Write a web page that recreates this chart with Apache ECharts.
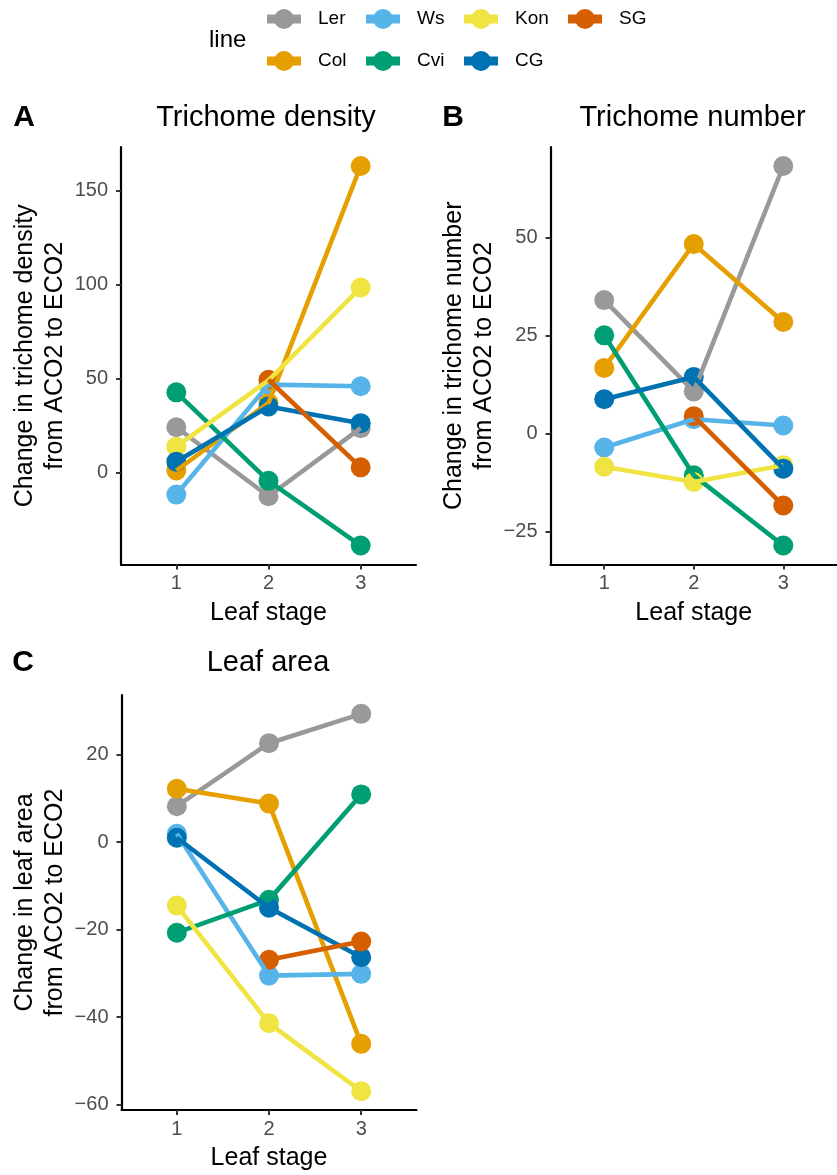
<!DOCTYPE html>
<html>
<head>
<meta charset="utf-8">
<script src="https://cdn.jsdelivr.net/npm/echarts@6.0.0/dist/echarts.min.js"></script>
<style>
  html, body { margin: 0; padding: 0; background: #ffffff; }
  #chart { width: 837px; height: 1175px; }
</style>
</head>
<body>
<div id="chart"></div>
<script>
// ---------- data ----------
const stages = [1, 2, 3];
const lineNames = ['Ler', 'Col', 'Ws', 'Cvi', 'Kon', 'CG', 'SG'];
const lineColors = ['#999999', '#E69F00', '#56B4E9', '#009E73', '#F0E442', '#0072B2', '#D55E00'];

// Panel A: change in trichome density (order follows lineNames)
const densityLer = [24.0, -12.7, 23.5];
const densityCol = [1.0, 37.0, 163.0];
const densityWs  = [-11.8, 46.7, 45.8];
const densityCvi = [42.6, -4.5, -38.9];
const densityKon = [13.7, 49.0, 98.3];
const densityCG  = [5.7, 35.1, 26.2];
const densitySG  = [null, 49.3, 2.7];

// Panel B: change in trichome number
const numberLer = [34.0, 10.7, 68.2];
const numberCol = [16.7, 48.3, 28.4];
const numberWs  = [-3.6, 3.6, 2.0];
const numberCvi = [25.0, -10.7, -28.6];
const numberKon = [-8.5, -12.4, -8.1];
const numberCG  = [8.7, 14.4, -9.0];
const numberSG  = [null, 4.4, -18.4];

// Panel C: change in leaf area
const areaLer = [8.2, 22.6, 29.3];
const areaCol = [12.2, 8.8, -46.1];
const areaWs  = [1.9, -30.5, -30.1];
const areaCvi = [-20.7, -13.2, 10.9];
const areaKon = [-14.5, -41.4, -56.9];
const areaCG  = [1.0, -15.0, -26.3];
const areaSG  = [null, -26.9, -22.7];

const densityTicks = [0, 50, 100, 150];
const numberTicks = [-25, 0, 25, 50];
const areaTicks = [-60, -40, -20, 0, 20];

const panelTitles = ['Trichome density', 'Trichome number', 'Leaf area'];
const panelLetters = ['A', 'B', 'C'];
const yNames = [
  'Change in trichome density\nfrom ACO2 to ECO2',
  'Change in trichome number\nfrom ACO2 to ECO2',
  'Change in leaf area\nfrom ACO2 to ECO2'
];
const xName = 'Leaf stage';
const legendTitle = 'line';
const legendColumns = [['Ler', 'Col'], ['Ws', 'Cvi'], ['Kon', 'CG'], ['SG']];

// ---------- build ----------
const panels = [
  [densityLer, densityCol, densityWs, densityCvi, densityKon, densityCG, densitySG],
  [numberLer, numberCol, numberWs, numberCvi, numberKon, numberCG, numberSG],
  [areaLer, areaCol, areaWs, areaCvi, areaKon, areaCG, areaSG]
];
const panelTicks = [densityTicks, numberTicks, areaTicks];

const FONT = '"Liberation Sans", Arial, Helvetica, sans-serif';
const grids = [
  { left: 121, top: 147, width: 295, height: 417.5 },
  { left: 550.5, top: 147, width: 294, height: 417.5 },
  { left: 121.5, top: 695, width: 295, height: 415 }
];

function expandRange(arrs) {
  const vals = [].concat(...arrs).filter(v => v !== null);
  const mn = Math.min(...vals), mx = Math.max(...vals);
  const pad = (mx - mn) * 0.05;
  return [mn - pad, mx + pad];
}
const minusFmt = v => String(v).replace('-', '\u2212');

const xAxes = [], yAxes = [], lineSeries = [], pointSeries = [];
panels.forEach((panel, p) => {
  xAxes.push({
    type: 'value', gridIndex: p, min: 0.4, max: 3.6,
    name: xName, nameLocation: 'middle', nameGap: 36,
    nameTextStyle: { fontSize: 25, color: '#000000', fontFamily: FONT },
    axisLine: { show: true, onZero: false, lineStyle: { color: '#000000', width: 2.2 } },
    axisTick: { show: true, length: 5, customValues: stages, lineStyle: { color: '#333333', width: 2 } },
    axisLabel: { customValues: stages, margin: 9, fontSize: 20, color: '#4D4D4D', fontFamily: FONT },
    splitLine: { show: false }
  });
  const r = expandRange(panel);
  yAxes.push({
    type: 'value', gridIndex: p, min: r[0], max: r[1],
    name: yNames[p], nameLocation: 'middle', nameGap: 51,
    nameTextStyle: { fontSize: 25, lineHeight: 30, color: '#000000', fontFamily: FONT },
    axisLine: { show: true, onZero: false, lineStyle: { color: '#000000', width: 2.2 } },
    axisTick: { show: true, length: 5, customValues: panelTicks[p], lineStyle: { color: '#333333', width: 2 } },
    axisLabel: { customValues: panelTicks[p], formatter: minusFmt, margin: 13, fontSize: 20, color: '#4D4D4D', fontFamily: FONT },
    splitLine: { show: false }
  });
  panel.forEach((vals, i) => {
    const data = stages.map((s, k) => [s, vals[k]]).filter(d => d[1] !== null);
    lineSeries.push({
      type: 'line', name: lineNames[i], xAxisIndex: p, yAxisIndex: p,
      data: data, showSymbol: false, symbol: 'circle', symbolSize: 20,
      lineStyle: { width: 4.6, color: lineColors[i] },
      itemStyle: { color: lineColors[i] },
      z: 3, silent: true, emphasis: { disabled: true }
    });
    pointSeries.push({
      type: 'scatter', name: lineNames[i], xAxisIndex: p, yAxisIndex: p,
      data: data, symbol: 'circle', symbolSize: 20,
      itemStyle: { color: lineColors[i], opacity: 1 },
      z: 2, silent: true, emphasis: { disabled: true }
    });
  });
});

const legendLefts = [262.5, 361.5, 459.5, 563.5];
const legends = legendColumns.map((names, c) => ({
  orient: 'vertical', left: legendLefts[c], top: 9, padding: 0,
  itemWidth: 34, itemHeight: 25, itemGap: 22,
  data: names, selectedMode: false,
  lineStyle: { width: 9 },
  textStyle: { fontSize: 19, color: '#000000', fontFamily: FONT, padding: [0, 0, 0, 12] }
}));

const titlePos = [[266, 117.5], [692.5, 117.5], [268, 663]];
const letterPos = [[24, 117.5], [453, 117.5], [23, 663]];
const graphics = [{
  type: 'text', left: 209, top: 28,
  style: { text: legendTitle, font: '24px ' + FONT, fill: '#000000' }
}];
panelTitles.forEach((t, p) => {
  graphics.push({
    type: 'text', x: titlePos[p][0], y: titlePos[p][1],
    style: { text: t, font: '29px ' + FONT, fill: '#000000', textAlign: 'center', textVerticalAlign: 'middle' }
  });
  graphics.push({
    type: 'text', x: letterPos[p][0], y: letterPos[p][1],
    style: { text: panelLetters[p], font: 'bold 30px ' + FONT, fill: '#000000', textAlign: 'center', textVerticalAlign: 'middle' }
  });
});

const chart = echarts.init(document.getElementById('chart'), null, { renderer: 'canvas' });
chart.setOption({
  animation: false,
  backgroundColor: '#ffffff',
  textStyle: { fontFamily: FONT },
  grid: grids,
  xAxis: xAxes,
  yAxis: yAxes,
  legend: legends,
  graphic: graphics,
  series: lineSeries.concat(pointSeries)
});
</script>
</body>
</html>
